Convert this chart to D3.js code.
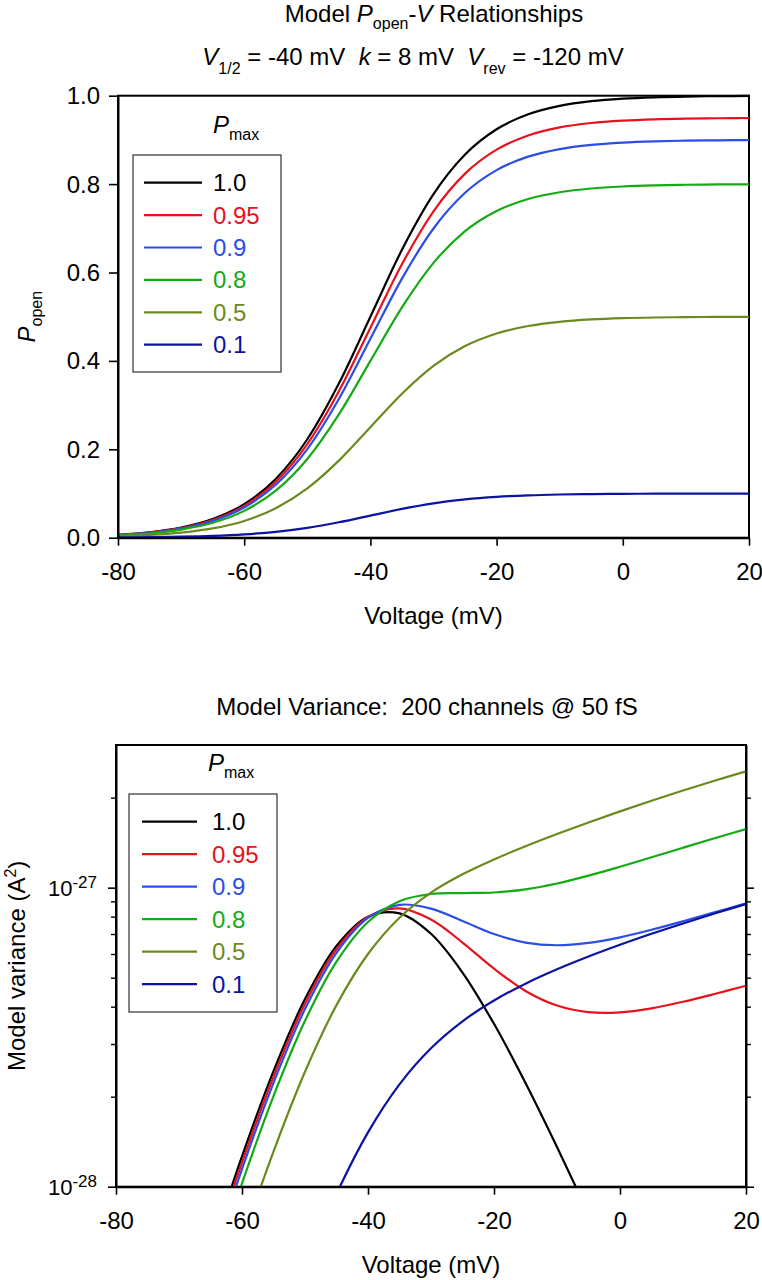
<!DOCTYPE html>
<html><head><meta charset="utf-8">
<script src="https://cdn.jsdelivr.net/npm/d3@7"></script>
<style>
body{margin:0;background:#fff}
svg{display:block}
text{font-family:"Liberation Sans",Arial,Helvetica,sans-serif;white-space:pre}
</style>
</head><body>
<svg id="c" width="762" height="1280"></svg>
<script>
// ---------- data ----------
const voltages = [-80,-75,-70,-65,-60,-55,-50,-45,-40,-35,-30,-25,-20,-15,-10,-5,0,5,10,15,20];
const pmaxLabels = ["1.0","0.95","0.9","0.8","0.5","0.1"];

const popen_100 = [0.0067,0.0124,0.0230,0.0421,0.0759,0.1330,0.2227,0.3486,0.5000,0.6514,0.7773,0.8670,0.9241,0.9579,0.9770,0.9876,0.9933,0.9964,0.9981,0.9990,0.9994];
const popen_095 = [0.0064,0.0118,0.0218,0.0400,0.0721,0.1263,0.2116,0.3312,0.4750,0.6188,0.7384,0.8237,0.8779,0.9100,0.9282,0.9382,0.9436,0.9466,0.9482,0.9490,0.9495];
const popen_090 = [0.0060,0.0112,0.0207,0.0379,0.0683,0.1197,0.2004,0.3138,0.4500,0.5862,0.6996,0.7803,0.8317,0.8621,0.8793,0.8888,0.8940,0.8968,0.8983,0.8991,0.8995];
const popen_080 = [0.0054,0.0099,0.0184,0.0337,0.0607,0.1064,0.1782,0.2789,0.4000,0.5211,0.6218,0.6936,0.7393,0.7663,0.7816,0.7901,0.7946,0.7971,0.7985,0.7992,0.7996];
const popen_050 = [0.0033,0.0062,0.0115,0.0210,0.0379,0.0665,0.1114,0.1743,0.2500,0.3257,0.3887,0.4335,0.4621,0.4790,0.4885,0.4938,0.4967,0.4982,0.4990,0.4995,0.4997];
const popen_010 = [0.0007,0.0012,0.0023,0.0042,0.0076,0.0133,0.0223,0.0349,0.0500,0.0651,0.0777,0.0867,0.0924,0.0958,0.0977,0.0988,0.0993,0.0996,0.0998,0.0999,0.0999];

// model variance, in units of 1e-28 A^2
const variance_100 = [0.053,0.124,0.281,0.610,1.262,2.435,4.241,6.387,8.000,8.204,7.011,5.202,3.505,2.223,1.358,0.812,0.479,0.280,0.163,0.094,0.054];
const variance_095 = [0.051,0.118,0.267,0.581,1.204,2.331,4.087,6.230,7.980,8.522,7.823,6.554,5.358,4.514,4.034,3.835,3.829,3.950,4.153,4.409,4.701];
const variance_090 = [0.048,0.112,0.253,0.551,1.145,2.226,3.926,6.056,7.920,8.763,8.512,7.735,6.998,6.553,6.420,6.535,6.824,7.233,7.722,8.269,8.859];
const variance_080 = [0.043,0.100,0.226,0.492,1.026,2.008,3.587,5.657,7.680,9.015,9.524,9.589,9.637,9.871,10.327,10.968,11.749,12.634,13.598,14.625,15.706];
const variance_050 = [0.027,0.063,0.142,0.312,0.657,1.311,2.424,4.048,6.000,7.934,9.623,11.082,12.428,13.757,15.117,16.529,17.999,19.531,21.125,22.781,24.500];
const variance_010 = [0.005,0.013,0.029,0.063,0.136,0.277,0.534,0.946,1.520,2.200,2.903,3.573,4.194,4.775,5.333,5.885,6.441,7.009,7.592,8.194,8.816];

const xTicks = [-80,-60,-40,-20,0,20];
const xTickLabels = ["-80","-60","-40","-20","0","20"];
const popenTicks = [0,0.2,0.4,0.6,0.8,1.0];
const popenTickLabels = ["0.0","0.2","0.4","0.6","0.8","1.0"];
const varianceMajorTicks = [1,10];
const varianceMajorExponents = ["-28","-27"];
const varianceMinorTicks = [2,3,4,5,6,7,8,9,20];

// ---------- styles ----------
const seriesColors = ["#000000","#e8121c","#2a4ee6","#14aa14","#6b8a1e","#0a14a0"];
const popenSeries = [popen_100,popen_095,popen_090,popen_080,popen_050,popen_010];
const varianceSeries = [variance_100,variance_095,variance_090,variance_080,variance_050,variance_010];

const svg = d3.select("#c");

function styleAxis(g, fs) {
  g.attr("font-family", null).attr("font-size", null);
  g.select(".domain").attr("stroke-width", 2);
  g.selectAll(".tick line").attr("stroke-width", 1.6);
  g.selectAll(".tick text").attr("font-size", fs).attr("fill", "#000");
}

function addRich(parent, parts, attrs) {
  const t = parent.append("text");
  for (const k in attrs) t.attr(k, attrs[k]);
  let shift = 0;
  parts.forEach(p => {
    const ts = t.append("tspan").text(p.t);
    const target = p.sub ? p.sub : 0;
    if (target !== shift) { ts.attr("dy", target - shift); shift = target; }
    if (p.fs) ts.attr("font-size", p.fs);
    if (p.i) ts.attr("font-style", "italic");
  });
  return t;
}

// ================= TOP PANEL =================
const xTop = d3.scaleLinear().domain([-80,20]).range([118,749]);
const yTop = d3.scaleLinear().domain([0,1]).range([537.7,95.7]);

addRich(svg, [{t:"Model "},{t:"P",i:1},{t:"open",fs:16,sub:7},{t:"-"},{t:"V",i:1},{t:" Relationships"}],
  {x:434, y:22, "text-anchor":"middle", "font-size":24});
addRich(svg, [{t:"V",i:1},{t:"1/2",fs:16,sub:9},{t:" = -40 mV  "},{t:"k",i:1},{t:" = 8 mV  "},{t:"V",i:1},{t:"rev",fs:16,sub:9},{t:" = -120 mV"}],
  {x:413, y:65, "text-anchor":"middle", "font-size":24});

svg.append("rect").attr("x",xTop.range()[0]).attr("y",yTop.range()[1])
  .attr("width",xTop.range()[1]-xTop.range()[0]).attr("height",yTop.range()[0]-yTop.range()[1])
  .attr("fill","none").attr("stroke","#000").attr("stroke-width",2);

svg.append("clipPath").attr("id","clipTop").append("rect")
  .attr("x",xTop.range()[0]).attr("y",yTop.range()[1]-2)
  .attr("width",xTop.range()[1]-xTop.range()[0]).attr("height",yTop.range()[0]-yTop.range()[1]+2);

const lineTop = d3.line().x((d,i)=>xTop(voltages[i])).y(d=>yTop(d)).curve(d3.curveMonotoneX);
const gTopLines = svg.append("g").attr("clip-path","url(#clipTop)");
popenSeries.forEach((s,k)=>{
  gTopLines.append("path").attr("d",lineTop(s)).attr("fill","none")
    .attr("stroke",seriesColors[k]).attr("stroke-width",2.2);
});

const gxTop = svg.append("g").attr("transform",`translate(0,${yTop(0)})`)
  .call(d3.axisBottom(xTop).tickValues(xTicks).tickSize(8).tickSizeOuter(0).tickFormat((d,i)=>xTickLabels[i]));
styleAxis(gxTop, 24);
gxTop.selectAll(".tick text").attr("y",42).attr("dy",null);

const gyTop = svg.append("g").attr("transform",`translate(${xTop(-80)},0)`)
  .call(d3.axisLeft(yTop).tickValues(popenTicks).tickSize(9).tickSizeOuter(0).tickPadding(9).tickFormat((d,i)=>popenTickLabels[i]));
styleAxis(gyTop, 24);
gyTop.selectAll(".tick text").attr("dy",null).attr("y",8);

svg.append("text").attr("x",(xTop.range()[0]+xTop.range()[1])/2).attr("y",yTop(0)+86)
  .attr("text-anchor","middle").attr("font-size",24).text("Voltage (mV)");

addRich(svg.append("g").attr("transform",`translate(35,${(yTop.range()[0]+yTop.range()[1])/2}) rotate(-90)`),
  [{t:"P",i:1},{t:"open",fs:16,sub:7}], {x:0,y:0,"text-anchor":"middle","font-size":24});

// legends
function legend(x0, y0, w, h, lineX0, lineX1, textX, firstY, step, headerX, headerY) {
  addRich(svg, [{t:"P",i:1},{t:"max",fs:16,sub:7}], {x:headerX, y:headerY, "font-size":24});
  svg.append("rect").attr("x",x0).attr("y",y0).attr("width",w).attr("height",h)
    .attr("fill","#fff").attr("stroke","#333").attr("stroke-width",1.2);
  pmaxLabels.forEach((lab,k)=>{
    const yy = firstY + k*step;
    svg.append("line").attr("x1",lineX0).attr("x2",lineX1).attr("y1",yy).attr("y2",yy)
      .attr("stroke",seriesColors[k]).attr("stroke-width",2.2);
    svg.append("text").attr("x",textX).attr("y",yy+8.5).attr("font-size",24)
      .attr("fill",seriesColors[k]).text(lab);
  });
}
legend(133,155,148,217,144,202,213,182.7,32.4,213,133);

// ================= BOTTOM PANEL =================
const xBot = d3.scaleLinear().domain([-80,20]).range([116,746]);
const yBot = d3.scaleLog().domain([1,30]).range([1186.7,745]);

svg.append("text").attr("x",427).attr("y",715).attr("text-anchor","middle").attr("font-size",24)
  .text("Model Variance:  200 channels @ 50 fS");

svg.append("rect").attr("x",xBot.range()[0]).attr("y",yBot.range()[1])
  .attr("width",xBot.range()[1]-xBot.range()[0]).attr("height",yBot.range()[0]-yBot.range()[1])
  .attr("fill","none").attr("stroke","#000").attr("stroke-width",2);

svg.append("clipPath").attr("id","clipBot").append("rect")
  .attr("x",xBot.range()[0]).attr("y",yBot.range()[1])
  .attr("width",xBot.range()[1]-xBot.range()[0]).attr("height",yBot.range()[0]-yBot.range()[1]);

const lineBot = d3.line().x((d,i)=>xBot(voltages[i])).y(d=>yBot(d)).curve(d3.curveCatmullRom.alpha(0.5));
const gBotLines = svg.append("g").attr("clip-path","url(#clipBot)");
varianceSeries.forEach((s,k)=>{
  gBotLines.append("path").attr("d",lineBot(s)).attr("fill","none")
    .attr("stroke",seriesColors[k]).attr("stroke-width",2.2);
});

const gxBot = svg.append("g").attr("transform",`translate(0,${yBot(1)})`)
  .call(d3.axisBottom(xBot).tickValues(xTicks).tickSize(8).tickSizeOuter(0).tickFormat((d,i)=>xTickLabels[i]));
styleAxis(gxBot, 24);
gxBot.selectAll(".tick text").attr("y",42).attr("dy",null);

// left major + minor
const gyBot = svg.append("g").attr("transform",`translate(${xBot.range()[0]},0)`)
  .call(d3.axisLeft(yBot).tickValues(varianceMajorTicks).tickSize(8).tickSizeOuter(0).tickFormat(()=>""));
styleAxis(gyBot, 22);
const gyBotMin = svg.append("g").attr("transform",`translate(${xBot.range()[0]},0)`)
  .call(d3.axisLeft(yBot).tickValues(varianceMinorTicks).tickSize(5).tickSizeOuter(0).tickFormat(()=>""));
gyBotMin.select(".domain").remove();
gyBotMin.selectAll(".tick line").attr("stroke-width",1.4);
// right major + minor
const gyBotR = svg.append("g").attr("transform",`translate(${xBot.range()[1]},0)`)
  .call(d3.axisRight(yBot).tickValues(varianceMajorTicks).tickSize(8).tickSizeOuter(0).tickFormat(()=>""));
styleAxis(gyBotR, 22);
const gyBotRMin = svg.append("g").attr("transform",`translate(${xBot.range()[1]},0)`)
  .call(d3.axisRight(yBot).tickValues(varianceMinorTicks).tickSize(5).tickSizeOuter(0).tickFormat(()=>""));
gyBotRMin.select(".domain").remove();
gyBotRMin.selectAll(".tick line").attr("stroke-width",1.4);

varianceMajorTicks.forEach((v,k)=>{
  addRich(svg, [{t:"10"},{t:varianceMajorExponents[k],fs:17,sub:-8}],
    {x:xBot.range()[0]-19, y:yBot(v)+8, "text-anchor":"end", "font-size":22});
});

svg.append("text").attr("x",(xBot.range()[0]+xBot.range()[1])/2).attr("y",yBot(1)+86)
  .attr("text-anchor","middle").attr("font-size",24).text("Voltage (mV)");

addRich(svg.append("g").attr("transform",`translate(25,${(yBot.range()[0]+yBot.range()[1])/2}) rotate(-90)`),
  [{t:"Model variance (A"},{t:"2",fs:16,sub:-9},{t:")"}], {x:0,y:0,"text-anchor":"middle","font-size":24});

legend(129,794,148,218,142,197,212,821.7,32.5,208,771);
</script>
</body></html>
